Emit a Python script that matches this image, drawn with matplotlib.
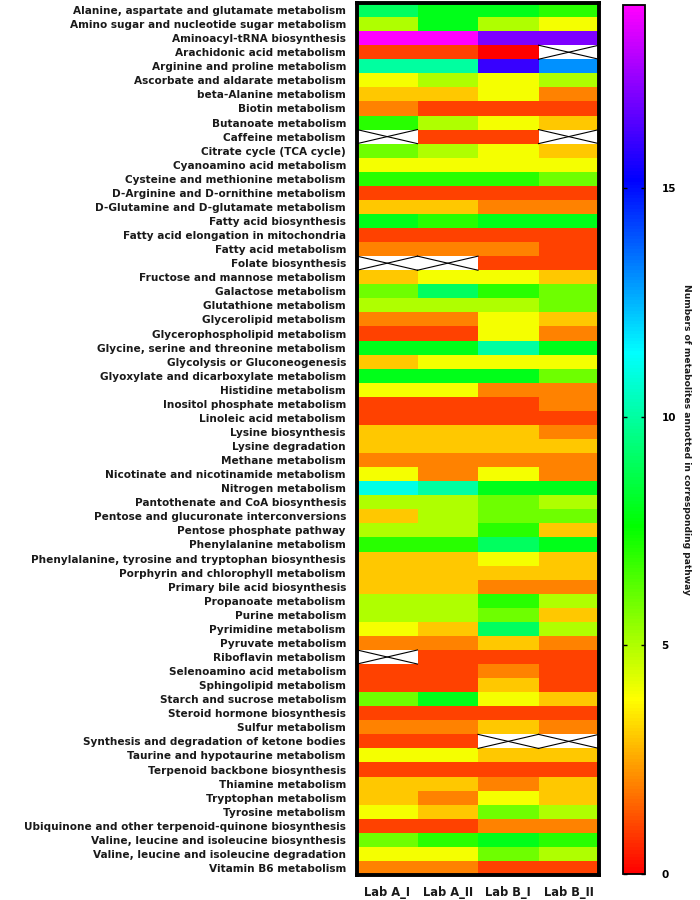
import numpy as np
import matplotlib
matplotlib.use("Agg")
import matplotlib.pyplot as plt
from matplotlib.colors import LinearSegmentedColormap, Normalize

pathways = [
    "Alanine, aspartate and glutamate metabolism",
    "Amino sugar and nucleotide sugar metabolism",
    "Aminoacyl-tRNA biosynthesis",
    "Arachidonic acid metabolism",
    "Arginine and proline metabolism",
    "Ascorbate and aldarate metabolism",
    "beta-Alanine metabolism",
    "Biotin metabolism",
    "Butanoate metabolism",
    "Caffeine metabolism",
    "Citrate cycle (TCA cycle)",
    "Cyanoamino acid metabolism",
    "Cysteine and methionine metabolism",
    "D-Arginine and D-ornithine metabolism",
    "D-Glutamine and D-glutamate metabolism",
    "Fatty acid biosynthesis",
    "Fatty acid elongation in mitochondria",
    "Fatty acid metabolism",
    "Folate biosynthesis",
    "Fructose and mannose metabolism",
    "Galactose metabolism",
    "Glutathione metabolism",
    "Glycerolipid metabolism",
    "Glycerophospholipid metabolism",
    "Glycine, serine and threonine metabolism",
    "Glycolysis or Gluconeogenesis",
    "Glyoxylate and dicarboxylate metabolism",
    "Histidine metabolism",
    "Inositol phosphate metabolism",
    "Linoleic acid metabolism",
    "Lysine biosynthesis",
    "Lysine degradation",
    "Methane metabolism",
    "Nicotinate and nicotinamide metabolism",
    "Nitrogen metabolism",
    "Pantothenate and CoA biosynthesis",
    "Pentose and glucuronate interconversions",
    "Pentose phosphate pathway",
    "Phenylalanine metabolism",
    "Phenylalanine, tyrosine and tryptophan biosynthesis",
    "Porphyrin and chlorophyll metabolism",
    "Primary bile acid biosynthesis",
    "Propanoate metabolism",
    "Purine metabolism",
    "Pyrimidine metabolism",
    "Pyruvate metabolism",
    "Riboflavin metabolism",
    "Selenoamino acid metabolism",
    "Sphingolipid metabolism",
    "Starch and sucrose metabolism",
    "Steroid hormone biosynthesis",
    "Sulfur metabolism",
    "Synthesis and degradation of ketone bodies",
    "Taurine and hypotaurine metabolism",
    "Terpenoid backbone biosynthesis",
    "Thiamine metabolism",
    "Tryptophan metabolism",
    "Tyrosine metabolism",
    "Ubiquinone and other terpenoid-quinone biosynthesis",
    "Valine, leucine and isoleucine biosynthesis",
    "Valine, leucine and isoleucine degradation",
    "Vitamin B6 metabolism",
]

samples = ["Lab A_I", "Lab A_II", "Lab B_I", "Lab B_II"]

N = np.nan
lab_a_i = [9, 5, 19, 1, 10, 4, 3, 2, 7, N, 6, 4, 7, 1, 3, 8, 1, 2, N, 3,
           6, 5, 2, 1, 8, 3, 8, 4, 1, 1, 3, 3, 2, 4, 11, 5, 3, 5, 7, 3,
           3, 3, 5, 5, 4, 2, N, 1, 1, 6, 1, 2, 1, 4, 1, 3, 3, 4, 1, 6, 4, 2]
lab_a_ii = [8, 8, 19, 1, 10, 5, 3, 1, 5, 1, 5, 4, 7, 1, 3, 7, 1, 2, N, 4,
            9, 5, 2, 1, 8, 4, 8, 4, 1, 1, 3, 3, 2, 2, 10, 5, 5, 5, 7, 3,
            3, 3, 5, 5, 3, 2, 1, 1, 1, 8, 1, 2, 1, 4, 1, 3, 2, 3, 1, 7, 4, 2]
lab_b_i = [8, 5, 17, 0, 16, 4, 4, 1, 4, 1, 4, 4, 7, 1, 2, 8, 1, 2, 1, 4,
           7, 5, 4, 4, 10, 4, 8, 2, 1, 1, 3, 3, 2, 4, 8, 6, 6, 7, 9, 4,
           3, 2, 7, 6, 9, 3, 1, 2, 3, 4, 1, 3, N, 3, 1, 2, 4, 6, 2, 8, 6, 1]
lab_b_ii = [7, 4, 17, N, 13, 5, 2, 1, 3, N, 3, 4, 6, 1, 2, 8, 1, 1, 1, 3,
            6, 6, 3, 2, 8, 4, 6, 2, 2, 1, 2, 3, 2, 2, 8, 5, 6, 3, 8, 3,
            3, 2, 5, 3, 5, 2, 1, 1, 1, 3, 1, 2, N, 3, 1, 3, 3, 5, 2, 7, 5, 1]

cbar_ticks = [0, 5, 10, 15]
vmin, vmax = 0, 19

plt.rcParams['font.family'] = ['DejaVu Sans']

data = np.array([lab_a_i, lab_a_ii, lab_b_i, lab_b_ii], dtype=float).T
masked = np.ma.masked_invalid(data)

cmap = LinearSegmentedColormap.from_list(
    "rainbow6", ["#FF0000", "#FFFF00", "#00FF00", "#00FFFF", "#0000FF", "#FF00FF"])
cmap.set_bad("white")
norm = Normalize(vmin=vmin, vmax=vmax)

fig = plt.figure(figsize=(7, 9), dpi=100)
ax = fig.add_axes([357 / 700, 1 - 875 / 900, 242 / 700, 872 / 900])
nrow, ncol = data.shape
mesh = ax.pcolormesh(np.arange(ncol + 1), np.arange(nrow + 1), masked,
                     cmap=cmap, norm=norm)
ax.set_xlim(0, ncol)
ax.set_ylim(nrow, 0)

# crosses for missing cells
for r, c in zip(*np.where(np.isnan(data))):
    ax.plot([c, c + 1], [r, r + 1], color="black", lw=0.8)
    ax.plot([c, c + 1], [r + 1, r], color="black", lw=0.8)

ax.set_yticks(np.arange(nrow) + 0.5)
ax.set_yticklabels(pathways, fontsize=7.6, fontweight="bold", color="#1a1a1a")
ax.set_xticks(np.arange(ncol) + 0.5)
ax.set_xticklabels(samples, fontsize=8.3, fontweight="bold", color="#1a1a1a")
ax.tick_params(axis="both", length=0)
ax.tick_params(axis="y", pad=8)
ax.tick_params(axis="x", pad=8)
for s in ax.spines.values():
    s.set_linewidth(2.8)
    s.set_color("black")

cax = fig.add_axes([623 / 700, 1 - 874 / 900, 22 / 700, 869 / 900])
cb = fig.colorbar(mesh, cax=cax, ticks=cbar_ticks)
cb.outline.set_linewidth(1.3)
cax.tick_params(axis="y", direction="in", length=3, width=1, left=True, right=True,
                labelsize=7.5, pad=12)
for t in cax.get_yticklabels():
    t.set_fontweight("bold")
cb.set_label("Numbers of metabolites annotted in corresponding pathway",
             rotation=270, fontsize=6.6, fontweight="bold", labelpad=11,
             color="#1a1a1a")

fig.savefig("out.png", dpi=100)
